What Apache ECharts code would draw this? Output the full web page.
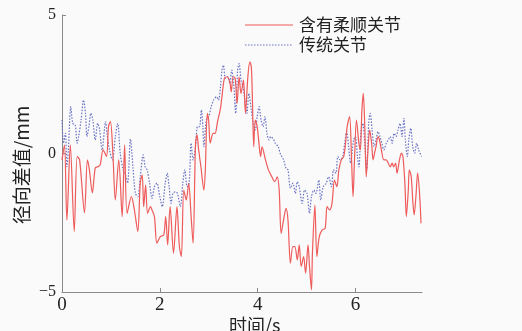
<!DOCTYPE html>
<html>
<head>
<meta charset="utf-8">
<script src="https://cdn.jsdelivr.net/npm/echarts@6/dist/echarts.min.js"></script>
<style>
html,body{margin:0;padding:0;background:#fafafa;}
#chart{width:522px;height:331px;}
</style>
</head>
<body>
<div id="chart"></div>
<script>
// Series names
const seriesNames = ['含有柔顺关节', '传统关节'];
// Tick labels
const xTicks = [0, 2, 4, 6];
const yTicks = [-5, 0, 5];

// 含有柔顺关节 (red, solid)
const redTime = [0.00,0.05,0.10,0.17,0.25,0.31,0.36,0.46,0.52,0.56,0.62,0.68,0.73,0.78,0.84,0.91,0.95,0.99,1.04,1.09,1.16,1.23,1.28,1.33,1.42,1.48,1.55,1.60,1.64,1.67,1.71,1.75,1.81,1.84,1.89,1.94,2.01,2.08,2.12,2.16,2.21,2.28,2.35,2.40,2.44,2.49,2.54,2.59,2.64,2.68,2.73,2.76,2.79,2.84,2.90,2.93,2.97,3.00,3.03,3.09,3.13,3.18,3.24,3.27,3.32,3.37,3.43,3.46,3.50,3.54,3.58,3.62,3.66,3.71,3.75,3.80,3.84,3.87,3.89,3.92,3.95,3.99,4.02,4.06,4.09,4.16,4.22,4.29,4.35,4.40,4.44,4.48,4.53,4.58,4.62,4.67,4.72,4.76,4.81,4.85,4.89,4.94,4.98,5.03,5.06,5.10,5.12,5.17,5.21,5.26,5.32,5.38,5.42,5.47,5.52,5.57,5.62,5.66,5.71,5.76,5.79,5.83,5.88,5.92,5.95,5.98,6.02,6.07,6.10,6.13,6.16,6.19,6.22,6.26,6.29,6.33,6.36,6.39,6.42,6.46,6.49,6.53,6.58,6.63,6.67,6.71,6.75,6.78,6.82,6.85,6.90,6.94,6.97,7.01,7.04,7.08,7.10,7.14,7.17,7.20,7.24,7.27,7.31,7.34];
const redValue = [-0.23,0.31,-2.41,0.31,-2.82,-0.11,-0.23,-2.14,-0.23,-0.59,-1.42,-0.52,-0.48,-0.41,0.13,-0.11,0.97,1.15,0.01,-1.68,-0.23,-2.28,0.31,-2.16,-1.56,-2.04,-2.82,-1.06,-0.77,-1.92,-1.14,-2.16,-1.92,-2.04,-2.28,-3.24,-3.00,-2.94,-2.28,-3.30,-1.92,-3.60,-1.92,-3.36,-3.72,-1.32,-1.68,-1.08,-2.28,-3.24,0.37,0.67,0.19,-0.48,-1.32,-0.60,1.45,1.15,0.37,0.73,0.73,1.15,1.63,2.05,2.71,2.77,2.59,2.23,2.77,2.71,1.81,2.77,2.17,2.65,1.45,2.77,3.31,3.13,2.17,0.25,1.21,0.97,0.49,-0.11,0.24,-0.23,-0.59,-0.84,-1.02,-0.84,-1.32,-2.88,-2.40,-1.98,-2.40,-3.96,-3.36,-3.36,-3.84,-3.30,-4.08,-3.72,-4.32,-3.30,-4.08,-4.92,-3.60,-1.86,-3.72,-3.00,-2.76,-2.70,-1.92,-2.04,-1.80,-0.96,-1.20,-0.59,-0.23,-0.11,0.25,0.97,1.33,-0.23,-1.56,-0.23,1.21,0.37,0.13,1.51,2.17,0.97,-0.84,0.25,0.85,0.37,-0.23,0.01,0.25,0.61,0.49,0.13,-0.23,-0.23,-0.35,-0.48,-0.35,-0.48,-0.35,-0.71,-0.23,0.01,-0.11,-1.07,-2.28,-1.32,-0.59,-0.84,-1.68,-2.22,-1.44,-0.71,-1.44,-2.52];

// 传统关节 (blue, dotted)
const blueTime = [0.00,0.03,0.07,0.10,0.13,0.18,0.22,0.27,0.31,0.34,0.39,0.44,0.48,0.51,0.55,0.59,0.63,0.68,0.73,0.77,0.82,0.89,0.92,0.97,1.03,1.09,1.14,1.19,1.25,1.29,1.34,1.40,1.45,1.50,1.55,1.60,1.66,1.70,1.74,1.79,1.84,1.89,1.94,2.00,2.05,2.11,2.15,2.19,2.23,2.27,2.32,2.36,2.42,2.47,2.51,2.56,2.60,2.64,2.68,2.73,2.77,2.81,2.85,2.88,2.90,2.95,3.00,3.05,3.10,3.16,3.20,3.24,3.27,3.30,3.34,3.39,3.43,3.47,3.51,3.55,3.59,3.62,3.66,3.70,3.74,3.78,3.82,3.87,3.91,3.95,3.99,4.03,4.07,4.11,4.15,4.19,4.23,4.27,4.33,4.36,4.42,4.46,4.53,4.58,4.62,4.67,4.72,4.77,4.81,4.85,4.91,4.96,5.01,5.06,5.10,5.15,5.19,5.25,5.29,5.34,5.40,5.45,5.51,5.55,5.60,5.64,5.69,5.74,5.78,5.82,5.86,5.90,5.96,6.00,6.04,6.07,6.11,6.15,6.19,6.23,6.27,6.30,6.34,6.38,6.42,6.46,6.50,6.54,6.58,6.63,6.67,6.71,6.75,6.79,6.83,6.87,6.91,6.95,6.99,7.02,7.06,7.09,7.13,7.17,7.21,7.25,7.29,7.35];
const blueValue = [1.21,0.37,0.73,-0.48,0.13,1.69,1.09,1.03,0.37,0.61,1.21,1.93,1.45,0.61,0.97,1.45,1.21,0.49,1.09,0.85,0.13,1.15,0.73,0.13,-0.23,0.61,1.09,0.01,-0.59,-0.71,-1.07,0.52,-0.48,-1.44,-1.56,-0.84,-0.05,-0.48,-0.59,-1.07,-1.62,-1.20,-1.07,-1.56,-1.92,-1.07,-0.71,-1.20,-1.80,-1.44,-1.38,-1.44,-1.92,-1.07,-0.59,-1.20,-1.07,0.37,-0.23,0.25,0.97,0.97,1.57,0.97,0.25,1.21,1.33,1.69,1.93,2.05,1.93,2.41,3.01,3.19,2.71,2.77,2.53,3.01,2.53,1.45,3.01,3.25,2.65,2.41,1.93,1.45,2.17,1.57,1.09,0.85,1.33,1.69,1.21,0.97,1.33,0.73,0.49,0.61,0.49,0.37,0.25,0.01,-0.23,-0.53,-0.59,-1.25,-1.07,-1.44,-1.02,-1.20,-1.80,-1.32,-1.44,-2.16,-1.56,-1.32,-1.44,-0.96,-1.68,-1.20,-1.08,-0.84,-1.20,-0.59,-0.71,-0.11,-0.23,-0.11,0.37,0.79,0.25,-0.35,0.49,0.61,-0.11,-0.48,0.73,1.09,0.37,-0.59,1.09,1.45,0.85,0.25,0.49,0.79,0.61,0.37,0.13,0.37,0.49,0.61,0.37,0.73,0.61,0.85,1.09,0.61,1.27,0.49,-0.11,0.49,0.91,0.25,0.01,0.37,0.13,-0.11];

const redData = redTime.map((t, i) => [t, redValue[i]]);
const blueData = blueTime.map((t, i) => [t, blueValue[i]]);

const chart = echarts.init(document.getElementById('chart'), null, {renderer: 'canvas'});
const serif = '"Liberation Serif", "Times New Roman", serif';
const cjk = '"Noto Sans CJK SC", sans-serif';
const axisColor = '#8a8a8a';
const redColor = '#ef5a5a';
const blueColor = '#6a72c4';

chart.setOption({
  backgroundColor: '#fafafa',
  animation: false,
  grid: {left: 62, right: 100, top: 15, bottom: 39, containLabel: false},
  xAxis: {
    type: 'value',
    min: 0,
    max: 7.36,
    splitLine: {show: false},
    axisLine: {onZero: false, lineStyle: {color: axisColor, width: 1}},
    axisTick: {inside: true, length: 4, customValues: xTicks, lineStyle: {color: axisColor}},
    axisLabel: {customValues: xTicks, fontFamily: serif, fontSize: 19, color: '#222', margin: 4}
  },
  yAxis: {
    type: 'value',
    min: -5,
    max: 5,
    splitLine: {show: false},
    axisLine: {onZero: false, lineStyle: {color: axisColor, width: 1}},
    axisTick: {inside: true, length: 4, customValues: yTicks, lineStyle: {color: axisColor}},
    axisLabel: {customValues: yTicks, fontFamily: serif, fontSize: 16, color: '#222', margin: 6,
      formatter: v => (v < 0 ? '\u2212' + Math.abs(v) : String(v))}
  },
  graphic: [
    {type: 'line', shape: {x1: 245, y1: 25, x2: 293, y2: 25}, style: {stroke: redColor, lineWidth: 1.2}},
    {type: 'text', left: 299, top: 16, style: {text: seriesNames[0], font: '17px ' + cjk, fill: '#222'}},
    {type: 'line', shape: {x1: 245, y1: 45, x2: 293, y2: 45}, style: {stroke: blueColor, lineWidth: 1.2, lineDash: [1.5, 1.5]}},
    {type: 'text', left: 299, top: 36, style: {text: seriesNames[1], font: '17px ' + cjk, fill: '#222'}},
    {type: 'text', left: 229, top: 316, style: {text: '时间/s', font: '18px ' + cjk, fill: '#222'}},
    {type: 'text', x: 22, y: 165, rotation: Math.PI / 2,
      style: {text: '径向差值/mm', font: '19px ' + cjk, fill: '#222', align: 'center', verticalAlign: 'middle'}}
  ],
  series: [
    {name: seriesNames[0], type: 'line', data: redData, showSymbol: false, symbol: 'none', smooth: 0.3,
      lineStyle: {color: redColor, width: 1.2}, itemStyle: {color: redColor}, z: 3},
    {name: seriesNames[1], type: 'line', data: blueData, showSymbol: false, symbol: 'none', smooth: 0.3,
      lineStyle: {color: blueColor, width: 1.2, type: [1.5, 1.5]}, itemStyle: {color: blueColor}, z: 2}
  ]
});
</script>
</body>
</html>
